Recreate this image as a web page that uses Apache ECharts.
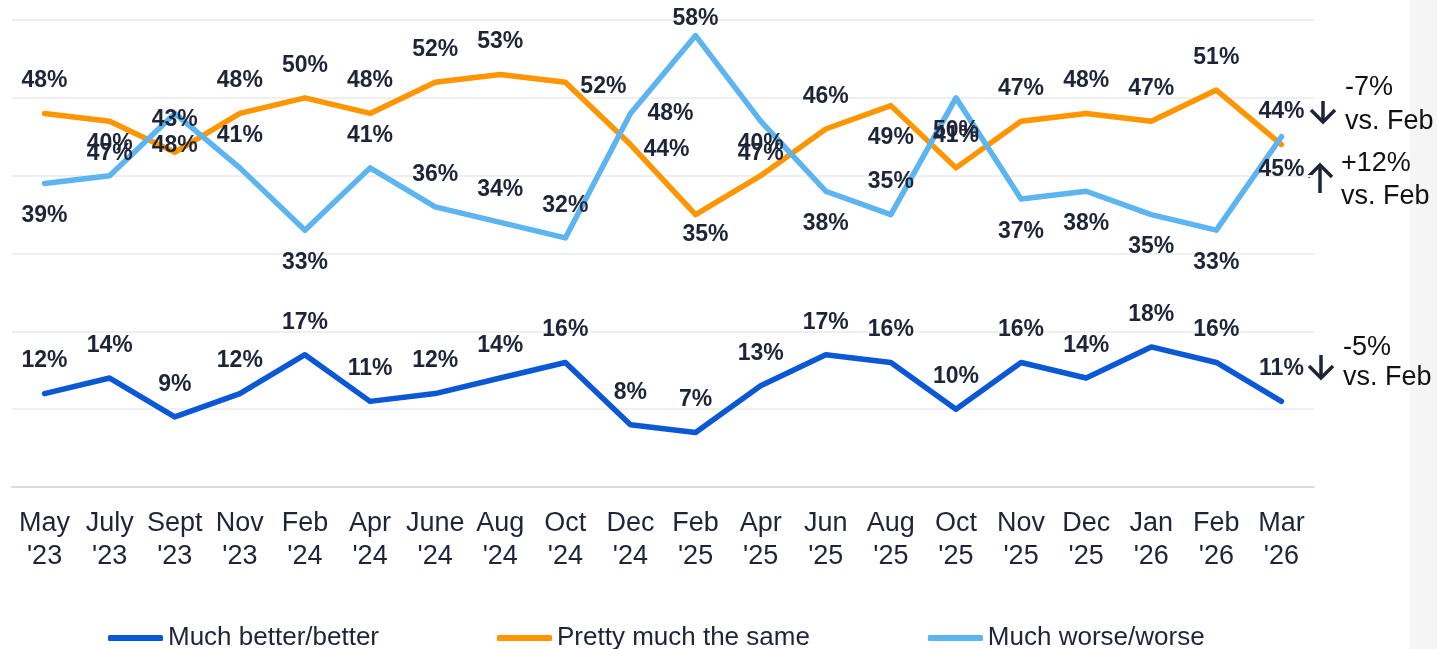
<!DOCTYPE html>
<html>
<head>
<meta charset="utf-8">
<title>Economy outlook</title>
<script src="https://cdn.jsdelivr.net/npm/echarts@6/dist/echarts.min.js"></script>
<style>
  html, body { margin: 0; padding: 0; background: #fff; }
  #main { width: 1437px; height: 649px; }
</style>
</head>
<body>
<div id="main"></div>
<script>
// survey waves
var months = ["May\n'23", "July\n'23", "Sept\n'23", "Nov\n'23", "Feb\n'24", "Apr\n'24", "June\n'24", "Aug\n'24", "Oct\n'24", "Dec\n'24",
  "Feb\n'25", "Apr\n'25", "Jun\n'25", "Aug\n'25", "Oct\n'25", "Nov\n'25", "Dec\n'25", "Jan\n'26", "Feb\n'26", "Mar\n'26"];

var seriesNames = ['Much better/better', 'Pretty much the same', 'Much worse/worse'];
var better = [12, 14, 9, 12, 17, 11, 12, 14, 16, 8, 7, 13, 17, 16, 10, 16, 14, 18, 16, 11];
var same = [48, 47, 43, 48, 50, 48, 52, 53, 52, 44, 35, 40, 46, 49, 41, 47, 48, 47, 51, 44];
var worse = [39, 40, 48, 41, 33, 41, 36, 34, 32, 48, 58, 47, 38, 35, 50, 37, 38, 35, 33, 45];

// value axis (hidden labels, only grid lines)
var yMin = 0, yMax = 60, yStep = 10;

// where each data label sits relative to its point
var samePos = ['top', 'bottom', 'top', 'top', 'top', 'top', 'top', 'top', 'right', 'right',
  'bottom', 'top', 'top', 'bottom', 'top', 'top', 'top', 'top', 'top', 'top'];
var worsePos = ['bottom', 'top', 'bottom', 'top', 'bottom', 'top', 'top', 'top', 'top', 'right',
  'top', 'bottom', 'bottom', 'top', 'bottom', 'bottom', 'bottom', 'bottom', 'bottom', 'bottom'];
var sameNudge = { 8: [-6, 4], 9: [-8, 5], 10: [10, -12] };
var worseNudge = { 9: [-4, 0], 10: [0, 16] };

var colors = ['#0a58d6', '#ff9500', '#5cb4f0'];
var textDark = '#1e2538';
var font = "'Liberation Sans', Arial, Helvetica, sans-serif";

function withLabels(values, pos, nudge) {
  return values.map(function (v, i) {
    var lab = { position: pos ? pos[i] : 'top' };
    if (nudge && nudge[i]) lab.offset = nudge[i];
    return { value: v, label: lab };
  });
}

function lineSeries(name, values, color, pos, nudge) {
  return {
    name: name,
    type: 'line',
    data: withLabels(values, pos, nudge),
    symbol: 'circle',
    symbolSize: 2,
    showSymbol: true,
    showAllSymbol: true,
    lineStyle: { color: color, width: 5.5, cap: 'round', join: 'round' },
    itemStyle: { color: color },
    label: {
      show: true,
      distance: 20,
      formatter: '{c}%',
      color: textDark,
      fontSize: 23,
      fontWeight: 'bold',
      fontFamily: font
    },
    emphasis: { disabled: true }
  };
}

function arrow(x, y1, y2, up) {
  var tip = up ? y1 : y2;
  var wing = up ? tip + 12 : tip - 12;
  return [
    { type: 'line', shape: { x1: x, y1: y1, x2: x, y2: y2 }, style: { stroke: textDark, lineWidth: 3.5 } },
    { type: 'polyline', shape: { points: [[x - 12, wing], [x, tip], [x + 12, wing]] }, style: { stroke: textDark, lineWidth: 3.5, fill: null } }
  ];
}

function note(x, y, txt) {
  return {
    type: 'text',
    style: { x: x, y: y, text: txt, font: '27px ' + font, fill: '#111', textVerticalAlign: 'middle', verticalAlign: 'middle' }
  };
}

var myChart = echarts.init(document.getElementById('main'));

var option = {
  animation: false,
  backgroundColor: '#fff',
  grid: { left: 12, right: 123, top: 20, bottom: 162, containLabel: false },
  xAxis: {
    type: 'category',
    data: months,
    boundaryGap: true,
    axisLine: { lineStyle: { color: '#dcdcdc', width: 2 } },
    axisTick: { show: false },
    axisLabel: {
      interval: 0,
      margin: 20,
      fontSize: 27,
      lineHeight: 33,
      color: textDark,
      fontFamily: font
    }
  },
  yAxis: {
    type: 'value',
    min: yMin,
    max: yMax,
    interval: yStep,
    axisLabel: { show: false },
    axisLine: { show: false },
    axisTick: { show: false },
    splitLine: { lineStyle: { color: '#efefef', width: 2 } }
  },
  legend: {
    data: seriesNames,
    left: 103,
    top: 620,
    icon: 'roundRect',
    itemWidth: 55,
    itemHeight: 6,
    itemGap: 118,
    textStyle: { fontSize: 26, color: textDark, fontFamily: font }
  },
  series: [
    lineSeries(seriesNames[0], better, colors[0]),
    lineSeries(seriesNames[1], same, colors[1], samePos, sameNudge),
    lineSeries(seriesNames[2], worse, colors[2], worsePos, worseNudge)
  ],
  graphic: [
    { type: 'rect', shape: { x: 1410, y: 0, width: 27, height: 649 }, style: { fill: '#f5f5f6' }, z: -10 }
  ]
    .concat(arrow(1323, 101, 122, false))
    .concat([note(1345, 88, '-7%'), note(1345, 122, 'vs. Feb')])
    .concat(arrow(1320, 165, 193, true))
    .concat([note(1341, 164, '+12%'), note(1341, 197, 'vs. Feb')])
    .concat(arrow(1321, 355, 378, false))
    .concat([note(1343, 348, '-5%'), note(1343, 378, 'vs. Feb')])
};

myChart.setOption(option);
</script>
</body>
</html>
